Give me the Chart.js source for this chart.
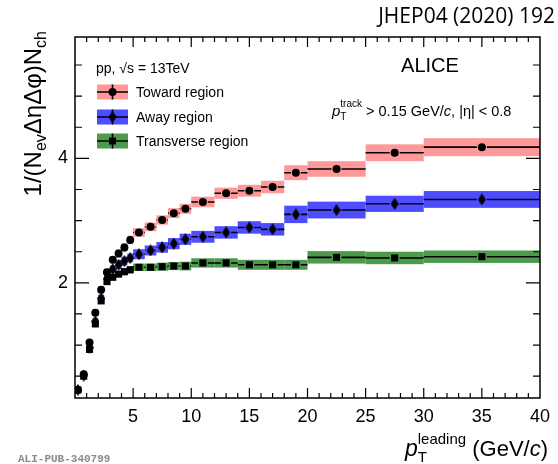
<!DOCTYPE html>
<html>
<head>
<meta charset="utf-8">
<script src="https://cdn.jsdelivr.net/npm/chart.js@4.4.1/dist/chart.umd.min.js"></script>
<style>
  html, body { margin: 0; padding: 0; background: #fff; }
  #wrap { width: 558px; height: 464px; }
</style>
</head>
<body>
<div id="wrap"><canvas id="ueChart" width="558" height="464"></canvas></div>
<script>
// bin centres and half widths of pT leading (GeV/c)
const ptCenters = [0.25, 0.75, 1.25, 1.75, 2.25, 2.75, 3.25, 3.75, 4.25, 4.75, 5.5, 6.5, 7.5, 8.5, 9.5, 11, 13, 15, 17, 19, 22.5, 27.5, 35];
const ptHalfWidths = [0.25, 0.25, 0.25, 0.25, 0.25, 0.25, 0.25, 0.25, 0.25, 0.25, 0.5, 0.5, 0.5, 0.5, 0.5, 1, 1, 1, 1, 1, 2.5, 2.5, 5];

const towardValues = [0.28, 0.53, 1.04, 1.52, 1.89, 2.17, 2.37, 2.47, 2.57, 2.69, 2.81, 2.90, 3.01, 3.12, 3.19, 3.30, 3.44, 3.48, 3.54, 3.77, 3.83, 4.09, 4.18];
const towardSys = [0.02, 0.03, 0.04, 0.05, 0.06, 0.06, 0.06, 0.07, 0.07, 0.07, 0.07, 0.07, 0.075, 0.08, 0.08, 0.085, 0.09, 0.095, 0.10, 0.12, 0.125, 0.135, 0.145];

const awayValues = [0.28, 0.51, 0.96, 1.38, 1.75, 2.07, 2.22, 2.29, 2.35, 2.40, 2.46, 2.52, 2.57, 2.63, 2.70, 2.74, 2.81, 2.89, 2.86, 3.10, 3.17, 3.27, 3.34];
const awaySys = [0.02, 0.03, 0.04, 0.05, 0.06, 0.06, 0.06, 0.07, 0.07, 0.07, 0.08, 0.08, 0.085, 0.09, 0.09, 0.095, 0.10, 0.10, 0.10, 0.14, 0.135, 0.13, 0.135];

const transValues = [0.28, 0.50, 0.93, 1.34, 1.71, 2.02, 2.09, 2.14, 2.18, 2.21, 2.25, 2.25, 2.26, 2.27, 2.27, 2.32, 2.32, 2.29, 2.29, 2.29, 2.41, 2.40, 2.42];
const transSys = [0.02, 0.03, 0.04, 0.05, 0.05, 0.05, 0.05, 0.05, 0.06, 0.06, 0.06, 0.06, 0.065, 0.065, 0.07, 0.075, 0.075, 0.08, 0.08, 0.08, 0.10, 0.10, 0.10];

const xTickLabels = [5, 10, 15, 20, 25, 30, 35, 40];
const yTickLabels = [2, 4];

const SANS = '"Liberation Sans", Arial, Helvetica, sans-serif';

function makeDiamond(w, h) {
  const c = document.createElement('canvas');
  c.width = w; c.height = h;
  const g = c.getContext('2d');
  g.fillStyle = '#000';
  g.beginPath();
  g.moveTo(w / 2, 0); g.lineTo(w, h / 2); g.lineTo(w / 2, h); g.lineTo(0, h / 2);
  g.closePath(); g.fill();
  return c;
}
const diamond = makeDiamond(8, 12);

const regions = [
  { label: 'Toward region', values: towardValues, sys: towardSys, color: '#ff9999', style: 'circle' },
  { label: 'Away region', values: awayValues, sys: awaySys, color: '#4d4dff', style: diamond },
  { label: 'Transverse region', values: transValues, sys: transSys, color: '#4d9a4d', style: 'rect' }
];

function richWidth(ctx, items) {
  let w = 0;
  items.forEach(it => {
    ctx.font = it.font;
    if (it.sup !== undefined) w += Math.max(ctx.measureText(it.sub).width, ctx.measureText(it.sup).width);
    else w += ctx.measureText(it.t).width;
  });
  return w;
}

function drawRich(ctx, items, x, y, align) {
  let cx = align === 'right' ? x - richWidth(ctx, items) : x;
  ctx.textAlign = 'left';
  ctx.textBaseline = 'alphabetic';
  items.forEach(it => {
    ctx.font = it.font;
    if (it.sup !== undefined) {
      ctx.fillText(it.sub, cx, y + it.subDy);
      ctx.fillText(it.sup, cx, y + it.supDy);
      cx += Math.max(ctx.measureText(it.sub).width, ctx.measureText(it.sup).width);
    } else {
      ctx.fillText(it.t, cx, y + (it.dy || 0));
      cx += ctx.measureText(it.t).width;
    }
  });
}

function drawMarker(ctx, style, x, y) {
  ctx.fillStyle = '#000';
  if (style === 'circle') {
    ctx.beginPath(); ctx.arc(x, y, 4, 0, Math.PI * 2); ctx.fill();
  } else if (style === 'rect') {
    ctx.fillRect(x - 3.5, y - 3.5, 7, 7);
  } else {
    ctx.drawImage(style, x - style.width / 2, y - style.height / 2);
  }
}

const rootStyle = {
  id: 'rootStyle',
  beforeDatasetsDraw(chart) {
    const { ctx, scales: { x, y } } = chart;
    ctx.save();
    // systematic boxes
    regions.forEach(r => {
      ctx.fillStyle = r.color;
      r.values.forEach((v, i) => {
        const x0 = x.getPixelForValue(ptCenters[i] - ptHalfWidths[i]);
        const x1 = x.getPixelForValue(ptCenters[i] + ptHalfWidths[i]);
        const y0 = y.getPixelForValue(v + r.sys[i]);
        const y1 = y.getPixelForValue(v - r.sys[i]);
        ctx.fillRect(x0, y0, x1 - x0, y1 - y0);
      });
    });
    // horizontal bin-width bars, with a gap round the marker
    ctx.strokeStyle = '#000';
    ctx.lineWidth = 1.6;
    const gap = 5;
    regions.forEach(r => {
      r.values.forEach((v, i) => {
        const x0 = x.getPixelForValue(ptCenters[i] - ptHalfWidths[i]);
        const x1 = x.getPixelForValue(ptCenters[i] + ptHalfWidths[i]);
        const xc = x.getPixelForValue(ptCenters[i]);
        const yp = y.getPixelForValue(v);
        ctx.beginPath();
        if (xc - gap > x0) { ctx.moveTo(x0, yp); ctx.lineTo(xc - gap, yp); }
        if (x1 > xc + gap) { ctx.moveTo(xc + gap, yp); ctx.lineTo(x1, yp); }
        ctx.stroke();
      });
    });
    ctx.restore();
  },
  afterDraw(chart) {
    const { ctx, chartArea: a, scales: { x, y } } = chart;
    ctx.save();
    // frame
    ctx.strokeStyle = '#000';
    ctx.lineWidth = 1.5;
    ctx.strokeRect(a.left, a.top, a.right - a.left, a.bottom - a.top);
    // inside ticks, mirrored on top and right
    ctx.lineWidth = 1.2;
    ctx.beginPath();
    for (let v = 1; v < 40; v++) {
      const px = x.getPixelForValue(v);
      const len = v % 5 === 0 ? 10 : 5;
      ctx.moveTo(px, a.bottom); ctx.lineTo(px, a.bottom - len);
      ctx.moveTo(px, a.top); ctx.lineTo(px, a.top + len);
    }
    for (let v = 0.5; v < 6; v += 0.5) {
      const py = y.getPixelForValue(v);
      const len = v % 2 === 0 ? 14 : 7;
      ctx.moveTo(a.left, py); ctx.lineTo(a.left + len, py);
      ctx.moveTo(a.right, py); ctx.lineTo(a.right - len, py);
    }
    ctx.stroke();

    ctx.fillStyle = '#000';
    // y axis title
    ctx.save();
    ctx.translate(41, 31);
    ctx.rotate(-Math.PI / 2);
    drawRich(ctx, [
      { t: '1/(N', font: '24px ' + SANS },
      { t: 'ev', font: '16px ' + SANS, dy: 5 },
      { t: 'ΔηΔφ)N', font: '24px ' + SANS },
      { t: 'ch', font: '16px ' + SANS, dy: 5 }
    ], 0, 0, 'right');
    ctx.restore();

    // x axis title
    drawRich(ctx, [
      { t: 'p', font: 'italic 23px ' + SANS },
      { sub: 'T', sup: 'leading', font: '15px ' + SANS, subDy: 6, supDy: -12 },
      { t: ' (GeV/', font: '22px ' + SANS },
      { t: 'c', font: 'italic 22px ' + SANS },
      { t: ')', font: '22px ' + SANS }
    ], 548, 456, 'right');

    // journal reference
    ctx.font = '21px "Open Sans", sans-serif';
    ctx.textAlign = 'right';
    ctx.textBaseline = 'middle';
    ctx.fillText('JHEP04 (2020) 192', 555, 17);

    // ALICE + system
    ctx.font = '20px ' + SANS;
    ctx.textAlign = 'center';
    ctx.fillText('ALICE', 430, 66);
    ctx.font = '14px ' + SANS;
    ctx.textAlign = 'left';
    ctx.fillText('pp, √s = 13TeV', 96, 69);

    // track selection
    drawRich(ctx, [
      { t: 'p', font: 'italic 15px ' + SANS },
      { sub: 'T', sup: 'track', font: '10px ' + SANS, subDy: 4, supDy: -9 },
      { t: ' > 0.15 GeV/', font: '14.5px ' + SANS },
      { t: 'c', font: 'italic 14.5px ' + SANS },
      { t: ', |η| < 0.8', font: '14.5px ' + SANS }
    ], 332, 116, 'left');

    // legend
    const rows = [92, 117, 141];
    regions.forEach((r, i) => {
      const cy = rows[i];
      ctx.fillStyle = r.color;
      ctx.fillRect(97, cy - 7.5, 31, 15);
      ctx.strokeStyle = '#000';
      ctx.lineWidth = 1.6;
      ctx.beginPath();
      ctx.moveTo(97, cy); ctx.lineTo(128, cy);
      ctx.moveTo(112.5, cy - 7.5); ctx.lineTo(112.5, cy + 7.5);
      ctx.stroke();
      drawMarker(ctx, r.style, 112.5, cy);
      ctx.fillStyle = '#000';
      ctx.font = '14px ' + SANS;
      ctx.textAlign = 'left';
      ctx.textBaseline = 'middle';
      ctx.fillText(r.label, 136, cy + 1);
    });

    // publication id
    ctx.fillStyle = '#8a8a8a';
    ctx.font = 'bold 11px "Liberation Mono", "DejaVu Sans Mono", monospace';
    ctx.textAlign = 'left';
    ctx.textBaseline = 'middle';
    ctx.fillText('ALI-PUB-340799', 18, 459);
    ctx.restore();
  }
};

new Chart(document.getElementById('ueChart').getContext('2d'), {
  type: 'scatter',
  data: {
    datasets: regions.map(r => ({
      label: r.label,
      data: ptCenters.map((pt, i) => ({ x: pt, y: r.values[i] })),
      pointStyle: r.style,
      pointRadius: r.style === 'rect' ? 5 : 4,
      backgroundColor: '#000',
      borderColor: '#000',
      borderWidth: 0,
      showLine: false
    }))
  },
  options: {
    responsive: false,
    animation: false,
    layout: { padding: { top: 37, right: 10, left: 0, bottom: 0 } },
    plugins: { legend: { display: false }, tooltip: { enabled: false } },
    scales: {
      x: {
        type: 'linear', min: 0, max: 40,
        afterFit: s => { s.height = 66; },
        afterBuildTicks: s => { s.ticks = xTickLabels.map(v => ({ value: v })); },
        grid: { display: false, drawTicks: false },
        border: { display: false },
        ticks: { autoSkip: false, maxRotation: 0, padding: 8, color: '#000', font: { family: SANS, size: 18 } }
      },
      y: {
        type: 'linear', min: 0.15, max: 5.95,
        afterFit: s => { s.width = 75; },
        afterBuildTicks: s => { s.ticks = yTickLabels.map(v => ({ value: v })); },
        grid: { display: false, drawTicks: false },
        border: { display: false },
        ticks: { padding: 7, color: '#000', font: { family: SANS, size: 18 } }
      }
    }
  },
  plugins: [rootStyle]
});
</script>
</body>
</html>
